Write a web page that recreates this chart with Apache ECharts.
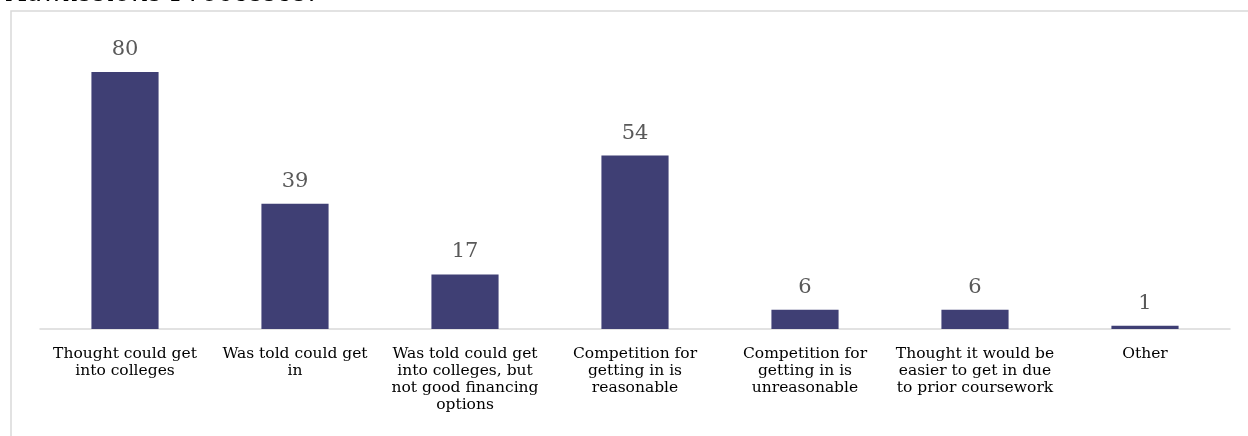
<!DOCTYPE html>
<html>
<head>
<meta charset="utf-8">
<script src="https://cdn.jsdelivr.net/npm/echarts@6/dist/echarts.min.js"></script>
<style>
  html, body { margin: 0; padding: 0; background: #fff; }
  #chart { width: 1248px; height: 436px; }
</style>
</head>
<body>
<div id="chart"></div>
<script>
// Reasons given about the admissions process
const categories = [
  'Thought could get\ninto colleges',
  'Was told could get\nin',
  'Was told could get\ninto colleges, but\nnot good financing\noptions',
  'Competition for\ngetting in is\nreasonable',
  'Competition for\ngetting in is\nunreasonable',
  'Thought it would be\neasier to get in due\nto prior coursework',
  'Other'
];
const counts = [80, 39, 17, 54, 6, 6, 1];
const titleText = 'Admissions Processes.';

const serif = 'DejaVu Serif';
const chart = echarts.init(document.getElementById('chart'));
chart.setOption({
  animation: false,
  backgroundColor: '#ffffff',
  graphic: [
    {
      type: 'rect',
      shape: { x: 11, y: 11, width: 1300, height: 500 },
      style: { fill: 'none', stroke: '#d9d9d9', lineWidth: 1.5 },
      silent: true
    },
    {
      type: 'text',
      x: 8,
      y: -6,
      silent: true,
      style: {
        text: titleText,
        font: 'italic 27px "' + serif + '"',
        fill: '#000000',
        verticalAlign: 'middle'
      }
    }
  ],
  grid: { left: 40, right: 18, top: 40, bottom: 107 },
  xAxis: {
    type: 'category',
    data: categories,
    axisLine: { lineStyle: { color: '#d9d9d9', width: 1.5 } },
    axisTick: { show: false },
    axisLabel: {
      interval: 0,
      color: '#000000',
      fontFamily: serif,
      fontSize: 15.5,
      lineHeight: 17,
      margin: 16
    }
  },
  yAxis: {
    type: 'value',
    min: 0,
    max: 90,
    show: false,
    splitLine: { show: false }
  },
  series: [{
    type: 'bar',
    data: counts,
    barWidth: '39.5%',
    itemStyle: { color: '#3f3f74' },
    label: {
      show: true,
      position: 'top',
      distance: 12,
      color: '#595959',
      fontFamily: serif,
      fontSize: 21
    }
  }]
});
</script>
</body>
</html>
